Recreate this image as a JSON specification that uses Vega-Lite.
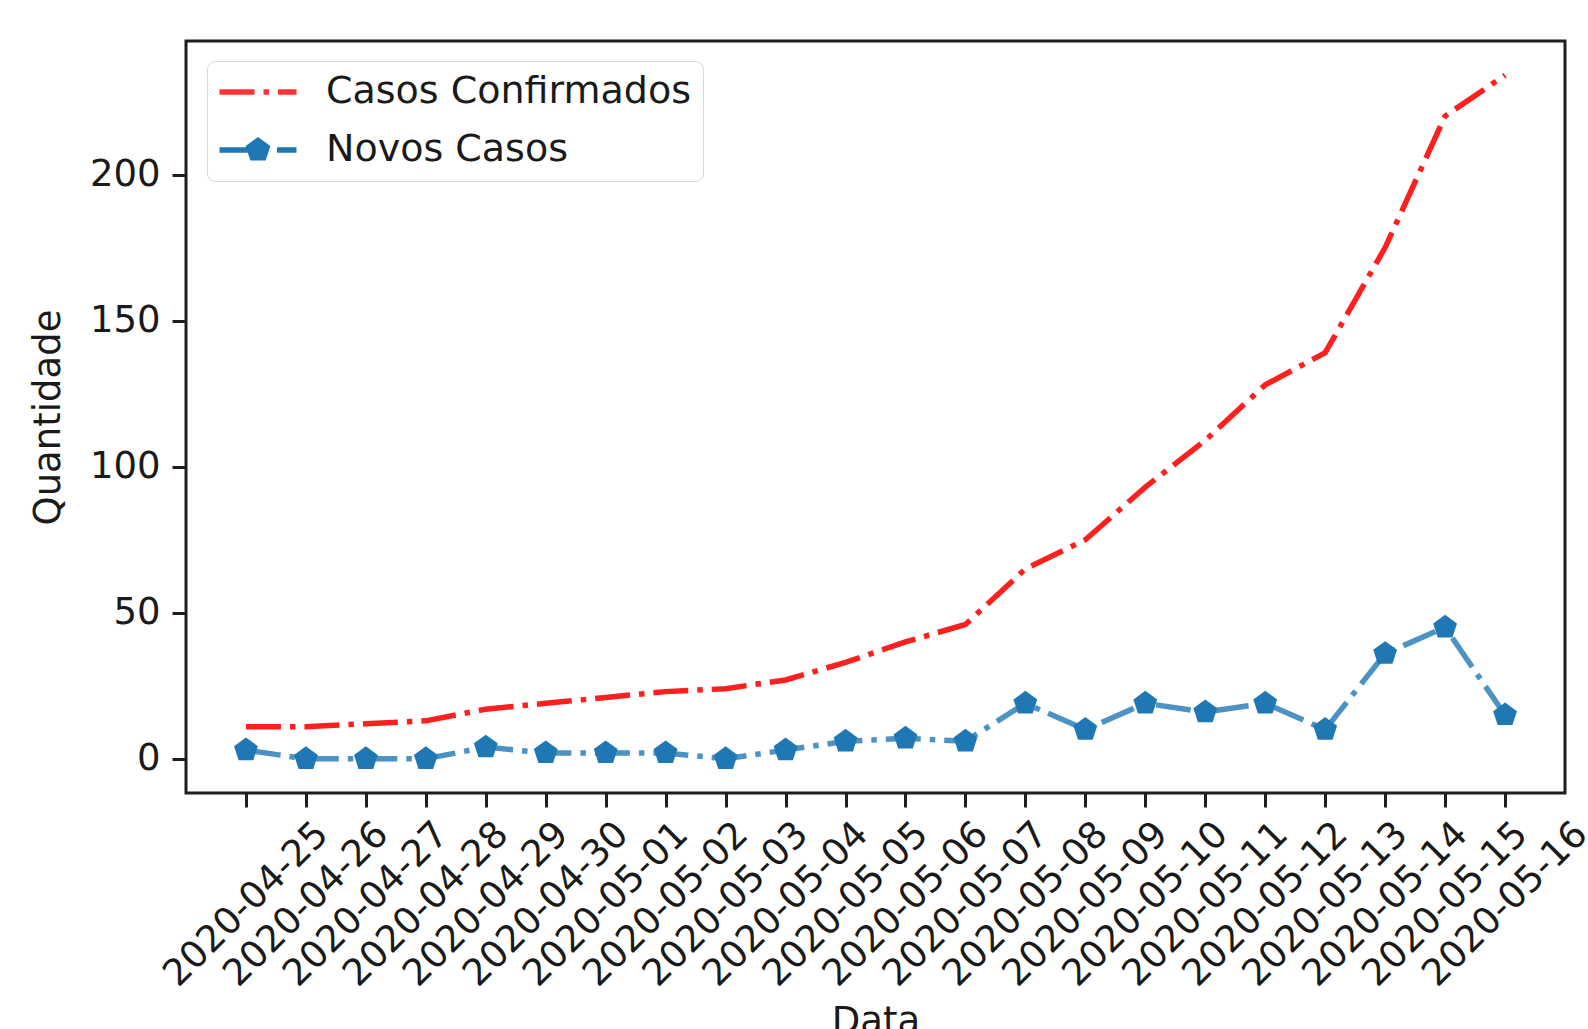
{
  "$schema": "https://vega.github.io/schema/vega-lite/v6.json",
  "autosize": {"type": "none"},
  "width": 1379,
  "height": 752,
  "padding": {"left": 186, "top": 41, "right": 23, "bottom": 236},
  "background": "white",
  "config": {
    "font": "DejaVu Sans",
    "view": {"stroke": "#1e1e1e", "strokeWidth": 3},
    "axis": {
      "domain": false, "grid": false,
      "tickColor": "#1e1e1e", "tickWidth": 3, "tickSize": 14,
      "labelFont": "DejaVu Sans", "labelFontSize": 37, "labelColor": "#1a1a1a", "labelLimit": 0,
      "titleFont": "DejaVu Sans", "titleFontSize": 37, "titleFontWeight": "normal", "titleColor": "#1a1a1a"
    },
    "legend": {"labelLimit": 0}
  },
  "datasets": {
    "d": [
      {"Data": "2020-04-25", "Serie": "Casos Confirmados", "Quantidade": 11},
      {"Data": "2020-04-26", "Serie": "Casos Confirmados", "Quantidade": 11},
      {"Data": "2020-04-27", "Serie": "Casos Confirmados", "Quantidade": 12},
      {"Data": "2020-04-28", "Serie": "Casos Confirmados", "Quantidade": 13},
      {"Data": "2020-04-29", "Serie": "Casos Confirmados", "Quantidade": 17},
      {"Data": "2020-04-30", "Serie": "Casos Confirmados", "Quantidade": 19},
      {"Data": "2020-05-01", "Serie": "Casos Confirmados", "Quantidade": 21},
      {"Data": "2020-05-02", "Serie": "Casos Confirmados", "Quantidade": 23},
      {"Data": "2020-05-03", "Serie": "Casos Confirmados", "Quantidade": 24},
      {"Data": "2020-05-04", "Serie": "Casos Confirmados", "Quantidade": 27},
      {"Data": "2020-05-05", "Serie": "Casos Confirmados", "Quantidade": 33},
      {"Data": "2020-05-06", "Serie": "Casos Confirmados", "Quantidade": 40},
      {"Data": "2020-05-07", "Serie": "Casos Confirmados", "Quantidade": 46},
      {"Data": "2020-05-08", "Serie": "Casos Confirmados", "Quantidade": 65},
      {"Data": "2020-05-09", "Serie": "Casos Confirmados", "Quantidade": 75},
      {"Data": "2020-05-10", "Serie": "Casos Confirmados", "Quantidade": 93},
      {"Data": "2020-05-11", "Serie": "Casos Confirmados", "Quantidade": 109},
      {"Data": "2020-05-12", "Serie": "Casos Confirmados", "Quantidade": 128},
      {"Data": "2020-05-13", "Serie": "Casos Confirmados", "Quantidade": 139},
      {"Data": "2020-05-14", "Serie": "Casos Confirmados", "Quantidade": 175},
      {"Data": "2020-05-15", "Serie": "Casos Confirmados", "Quantidade": 220},
      {"Data": "2020-05-16", "Serie": "Casos Confirmados", "Quantidade": 234},
      {"Data": "2020-04-25", "Serie": "Novos Casos", "Quantidade": 3},
      {"Data": "2020-04-26", "Serie": "Novos Casos", "Quantidade": 0},
      {"Data": "2020-04-27", "Serie": "Novos Casos", "Quantidade": 0},
      {"Data": "2020-04-28", "Serie": "Novos Casos", "Quantidade": 0},
      {"Data": "2020-04-29", "Serie": "Novos Casos", "Quantidade": 4},
      {"Data": "2020-04-30", "Serie": "Novos Casos", "Quantidade": 2},
      {"Data": "2020-05-01", "Serie": "Novos Casos", "Quantidade": 2},
      {"Data": "2020-05-02", "Serie": "Novos Casos", "Quantidade": 2},
      {"Data": "2020-05-03", "Serie": "Novos Casos", "Quantidade": 0},
      {"Data": "2020-05-04", "Serie": "Novos Casos", "Quantidade": 3},
      {"Data": "2020-05-05", "Serie": "Novos Casos", "Quantidade": 6},
      {"Data": "2020-05-06", "Serie": "Novos Casos", "Quantidade": 7},
      {"Data": "2020-05-07", "Serie": "Novos Casos", "Quantidade": 6},
      {"Data": "2020-05-08", "Serie": "Novos Casos", "Quantidade": 19},
      {"Data": "2020-05-09", "Serie": "Novos Casos", "Quantidade": 10},
      {"Data": "2020-05-10", "Serie": "Novos Casos", "Quantidade": 19},
      {"Data": "2020-05-11", "Serie": "Novos Casos", "Quantidade": 16},
      {"Data": "2020-05-12", "Serie": "Novos Casos", "Quantidade": 19},
      {"Data": "2020-05-13", "Serie": "Novos Casos", "Quantidade": 10},
      {"Data": "2020-05-14", "Serie": "Novos Casos", "Quantidade": 36},
      {"Data": "2020-05-15", "Serie": "Novos Casos", "Quantidade": 45},
      {"Data": "2020-05-16", "Serie": "Novos Casos", "Quantidade": 15}
    ]
  },
  "data": {"name": "d"},
  "encoding": {
    "x": {
      "field": "Data", "type": "ordinal", "sort": null,
      "scale": {"type": "point", "padding": 1.05},
      "axis": {"title": "Data", "labelAngle": -45, "labelAlign": "center", "labelBaseline": "middle", "labelPadding": 97, "titlePadding": 11, "labelOverlap": false, "labelLimit": 0}
    },
    "y": {
      "field": "Quantidade", "type": "quantitative",
      "scale": {"domain": [-11.7, 245.7], "nice": false, "zero": false},
      "axis": {"title": "Quantidade", "values": [0, 50, 100, 150, 200], "labelPadding": 12, "titlePadding": 22}
    }
  },
  "layer": [
    {
      "transform": [{"filter": "datum.Serie == 'Casos Confirmados'"}],
      "mark": {"type": "line", "color": "#ff1f1f", "strokeWidth": 5.5, "strokeDash": [35, 9, 5.5, 9]}
    },
    {
      "transform": [{"filter": "datum.Serie == 'Novos Casos'"}],
      "mark": {"type": "line", "color": "#1f77b4", "opacity": 0.8, "strokeWidth": 5.5, "strokeDash": [35, 9, 5.5, 9]}
    },
    {
      "transform": [{"filter": "datum.Serie == 'Novos Casos'"}],
      "mark": {"type": "point", "shape": "M0,-1L0.951,-0.309L0.588,0.809L-0.588,0.809L-0.951,-0.309Z", "filled": true, "size": 625, "color": "#1f77b4", "opacity": 1, "strokeWidth": 0}
    },
    {
      "mark": {"type": "point", "filled": true, "opacity": 0, "size": 625},
      "encoding": {
        "color": {
          "field": "Serie", "type": "nominal",
          "scale": {"domain": ["Casos Confirmados", "Novos Casos"], "range": ["#ff3333", "#1f77b4"]},
          "legend": {"title": null, "orient": "none", "legendX": 21, "legendY": 20, "labelFont": "DejaVu Sans", "labelFontSize": 38, "labelColor": "#1a1a1a", "labelLimit": 0, "symbolSize": 625, "symbolOpacity": 1, "symbolStrokeWidth": 0, "labelOffset": 69, "rowPadding": 20, "padding": 12, "strokeColor": "#d6d6d6", "fillColor": "white", "cornerRadius": 8}
        },
        "shape": {
          "field": "Serie", "type": "nominal",
          "scale": {"domain": ["Casos Confirmados", "Novos Casos"], "range": ["M-1.48,-0.22H1.32V0.22H-1.48Z M2.04,-0.22H2.48V0.22H2.04Z M3.2,-0.22H4.68V0.22H3.2Z", "M-1.48,-0.22H1.72V0.22H-1.48Z M1.6,-1.04L2.589,-0.321L2.212,0.841L0.988,0.841L0.611,-0.321Z M3.12,-0.22H4.68V0.22H3.12Z"]},
          "legend": {"title": null, "orient": "none", "legendX": 21, "legendY": 20, "labelFont": "DejaVu Sans", "labelFontSize": 38, "labelColor": "#1a1a1a", "labelLimit": 0, "symbolSize": 625, "symbolOpacity": 1, "symbolStrokeWidth": 0, "labelOffset": 69, "rowPadding": 20, "padding": 12, "strokeColor": "#d6d6d6", "fillColor": "white", "cornerRadius": 8}
        }
      }
    }
  ]
}
